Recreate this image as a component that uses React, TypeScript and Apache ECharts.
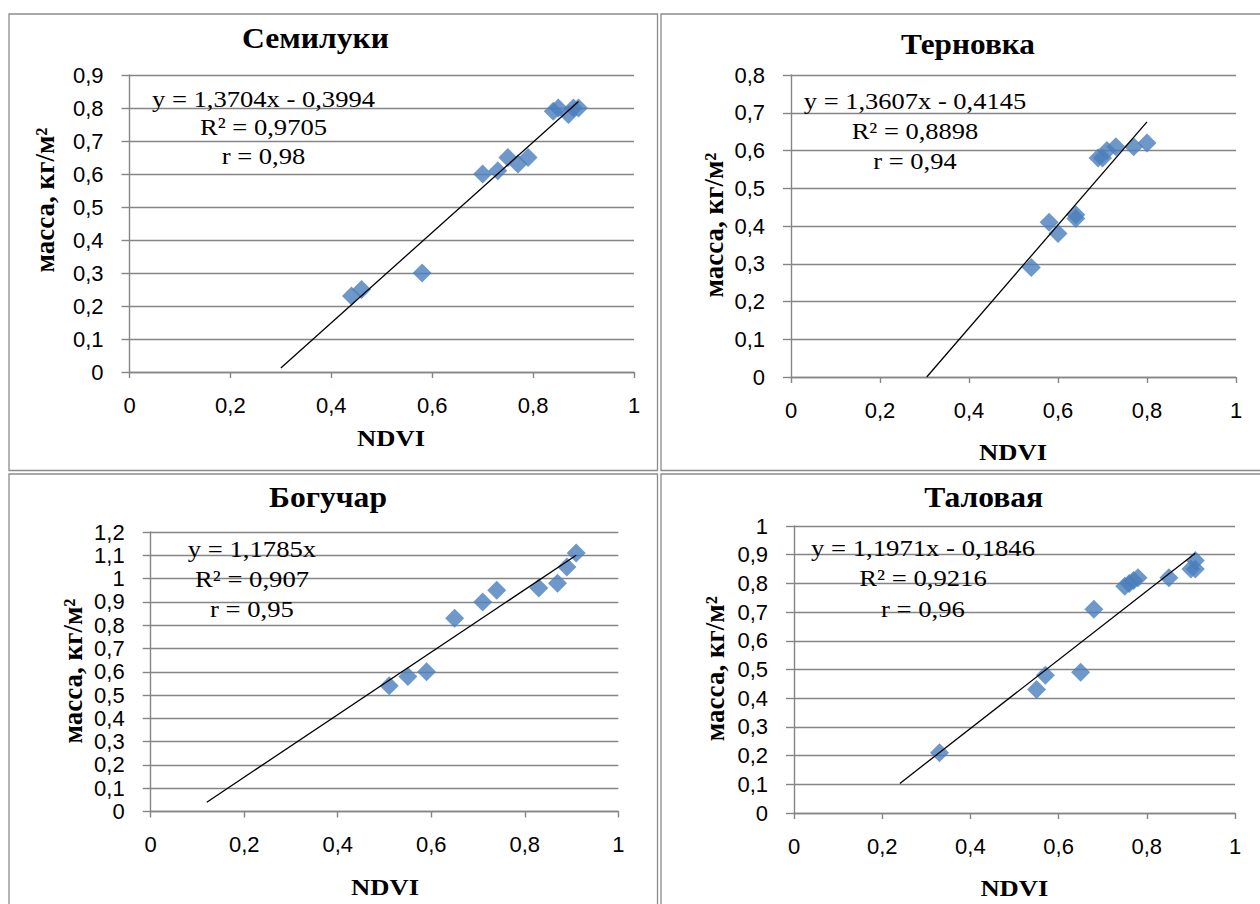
import React, { useEffect, useRef } from "react";
import * as echarts from "echarts";

// ---------------- data ----------------
const titles = ["Семилуки", "Терновка", "Богучар", "Таловая"];
const xAxisName = "NDVI";
const yAxisName = "масса, кг/м²";
const xMin = 0;
const xMax = 1;
const xStep = 0.2;
const yStep = 0.1;
const yMaxes = [0.9, 0.8, 1.2, 1];

const semilukiNdvi = [0.44, 0.46, 0.58, 0.7, 0.73, 0.75, 0.77, 0.79, 0.84, 0.85, 0.87, 0.88, 0.89];
const semilukiMass = [0.23, 0.25, 0.3, 0.6, 0.61, 0.65, 0.63, 0.65, 0.79, 0.8, 0.78, 0.8, 0.8];
const semilukiTrend = [[0.3, 0.012], [0.89, 0.82]];
const semilukiEq = ["y = 1,3704x - 0,3994", "R² = 0,9705", "r = 0,98"];

const ternovkaNdvi = [0.54, 0.58, 0.6, 0.64, 0.64, 0.69, 0.7, 0.71, 0.73, 0.77, 0.8];
const ternovkaMass = [0.29, 0.41, 0.38, 0.43, 0.42, 0.58, 0.58, 0.6, 0.61, 0.61, 0.62];
const ternovkaTrend = [[0.305, 0], [0.8, 0.676]];
const ternovkaEq = ["y = 1,3607x - 0,4145", "R² = 0,8898", "r = 0,94"];

const bogucharNdvi = [0.51, 0.55, 0.59, 0.65, 0.71, 0.74, 0.83, 0.87, 0.89, 0.91];
const bogucharMass = [0.54, 0.58, 0.6, 0.83, 0.9, 0.95, 0.96, 0.98, 1.05, 1.11];
const boguCharTrend = [[0.12, 0.04], [0.91, 1.1]];
const boguEq = ["y = 1,1785x", "R² = 0,907", "r = 0,95"];

const talovayaNdvi = [0.33, 0.55, 0.57, 0.65, 0.68, 0.75, 0.76, 0.77, 0.78, 0.85, 0.9, 0.91, 0.91];
const talovayaMass = [0.21, 0.43, 0.48, 0.49, 0.71, 0.79, 0.8, 0.81, 0.82, 0.82, 0.85, 0.85, 0.88];
const talovayaTrend = [[0.24, 0.103], [0.91, 0.905]];
const talovayaEq = ["y = 1,1971x - 0,1846", "R² = 0,9216", "r = 0,96"];

const panelsData = [
  { x: semilukiNdvi, y: semilukiMass, trend: semilukiTrend, eq: semilukiEq },
  { x: ternovkaNdvi, y: ternovkaMass, trend: ternovkaTrend, eq: ternovkaEq },
  { x: bogucharNdvi, y: bogucharMass, trend: boguCharTrend, eq: boguEq },
  { x: talovayaNdvi, y: talovayaMass, trend: talovayaTrend, eq: talovayaEq },
];

// ---------------- layout (pixels) ----------------
const layout = [
  {
    grid: { left: 129.5, top: 75, width: 504.5, height: 297 },
    title: [315.5, 38.5, 147], eq: [263.5, [98, 126.7, 155], 223],
    yName: [45, 200, 145], xName: [391, 437.5, 68], box: [9, 14, 648.5, 456.5],
  },
  {
    grid: { left: 791, top: 75, width: 445, height: 302 },
    title: [968, 44, 134], eq: [915, [100, 130.5, 160], 222.5],
    yName: [714, 225, 145], xName: [1013, 451, 68], box: [661, 14, 620, 456.5],
  },
  {
    grid: { left: 150.7, top: 532, width: 467.6, height: 279.5 },
    title: [328, 497, 118], eq: [252, [548, 578, 608.7], 128.4],
    yName: [73.5, 671, 145], xName: [385, 886, 68], box: [9, 474, 648.5, 450],
  },
  {
    grid: { left: 794, top: 526, width: 441, height: 287 },
    title: [983.6, 497, 119], eq: [923, [547, 577, 608], 224],
    yName: [715.5, 668.7, 145], xName: [1014.4, 887, 68], box: [661, 474, 620, 450],
  },
];

const GRID = "#858585";
const BLUE = "#4a7ebb";
const SERIF = "'Liberation Serif', 'Times New Roman', serif";
const SANS = "'Liberation Sans', Arial, sans-serif";

const fmt = (v: number) => String(Math.round(v * 10) / 10).replace(".", ",");

let measureCtx: CanvasRenderingContext2D | null = null;
function measure(text: string, font: string): number {
  if (!measureCtx) measureCtx = document.createElement("canvas").getContext("2d");
  if (!measureCtx) return 1;
  measureCtx.font = font;
  return measureCtx.measureText(text).width || 1;
}

function textEl(
  text: string, x: number, y: number, size: number, bold: boolean,
  targetWidth: number | null, rotation = 0, scaleOverride?: number
) {
  const font = `${bold ? "bold " : ""}${size}px 'Liberation Serif'`;
  const sx = scaleOverride ?? (targetWidth ? targetWidth / measure(text, font) : 1);
  return {
    type: "text",
    x, y, rotation, scaleX: sx, scaleY: 1,
    silent: true,
    z: 10,
    style: {
      text, fill: "#000", fontSize: size, fontFamily: SERIF,
      fontWeight: bold ? "bold" : "normal",
      align: "center", verticalAlign: "middle",
    },
  };
}

export default function App() {
  const ref = useRef<HTMLDivElement>(null);

  useEffect(() => {
    document.body.style.margin = "0";
    if (!ref.current) return;
    const chart = echarts.init(ref.current, undefined, { renderer: "svg" });

    const graphics: any[] = [];
    layout.forEach((l, i) => {
      const [bx, by, bw, bh] = l.box;
      graphics.push({
        type: "rect", silent: true, z: 0,
        shape: { x: bx, y: by, width: bw, height: bh },
        style: { fill: "none", stroke: "#8c8c8c", lineWidth: 1.3 },
      });
      graphics.push(textEl(titles[i], l.title[0], l.title[1], 29, true, l.title[2]));
      const eqLines = panelsData[i].eq;
      const eqFont = `24px 'Liberation Serif'`;
      const eqScale = (l.eq[2] as number) / measure(eqLines[0], eqFont);
      eqLines.forEach((t, k) => {
        graphics.push(textEl(t, l.eq[0] as number, (l.eq[1] as number[])[k], 24, false, null, 0, eqScale));
      });
      graphics.push(textEl(yAxisName, l.yName[0], l.yName[1], 27, true, l.yName[2], Math.PI / 2));
      graphics.push(textEl(xAxisName, l.xName[0], l.xName[1], 24, true, l.xName[2]));
    });

    const option: any = {
      animation: false,
      backgroundColor: "#ffffff",
      grid: layout.map((l) => ({ ...l.grid, show: false })),
      xAxis: layout.map((_, i) => ({
        type: "value", gridIndex: i, min: xMin, max: xMax, interval: xStep,
        axisLine: { show: true, onZero: false, lineStyle: { color: GRID, width: 1.4 } },
        axisTick: { show: true, length: 6, lineStyle: { color: GRID, width: 1.4 } },
        splitLine: { show: false },
        axisLabel: { fontSize: 22, fontFamily: SANS, color: "#000", margin: 22, formatter: fmt },
      })),
      yAxis: layout.map((_, i) => ({
        type: "value", gridIndex: i, min: 0, max: yMaxes[i], interval: yStep,
        axisLine: { show: true, lineStyle: { color: GRID, width: 1.4 } },
        axisTick: { show: true, length: 8, lineStyle: { color: GRID, width: 1.4 } },
        splitLine: { show: true, lineStyle: { color: GRID, width: 1.4 } },
        axisLabel: { fontSize: 22, fontFamily: SANS, color: "#000", margin: 26, formatter: fmt },
      })),
      series: panelsData.flatMap((p, i) => [
        {
          type: "scatter", xAxisIndex: i, yAxisIndex: i,
          data: p.x.map((v, j) => [v, p.y[j]]),
          symbol: "diamond", symbolSize: 19,
          itemStyle: { color: BLUE },
          silent: true,
        },
        {
          type: "line", xAxisIndex: i, yAxisIndex: i,
          data: p.trend, symbol: "none", silent: true,
          lineStyle: { color: "#000", width: 1.3 },
        },
      ]),
      graphic: graphics,
    };

    chart.setOption(option);
    return () => chart.dispose();
  }, []);

  return <div ref={ref} style={{ width: 1260, height: 904, background: "#fff" }} />;
}
